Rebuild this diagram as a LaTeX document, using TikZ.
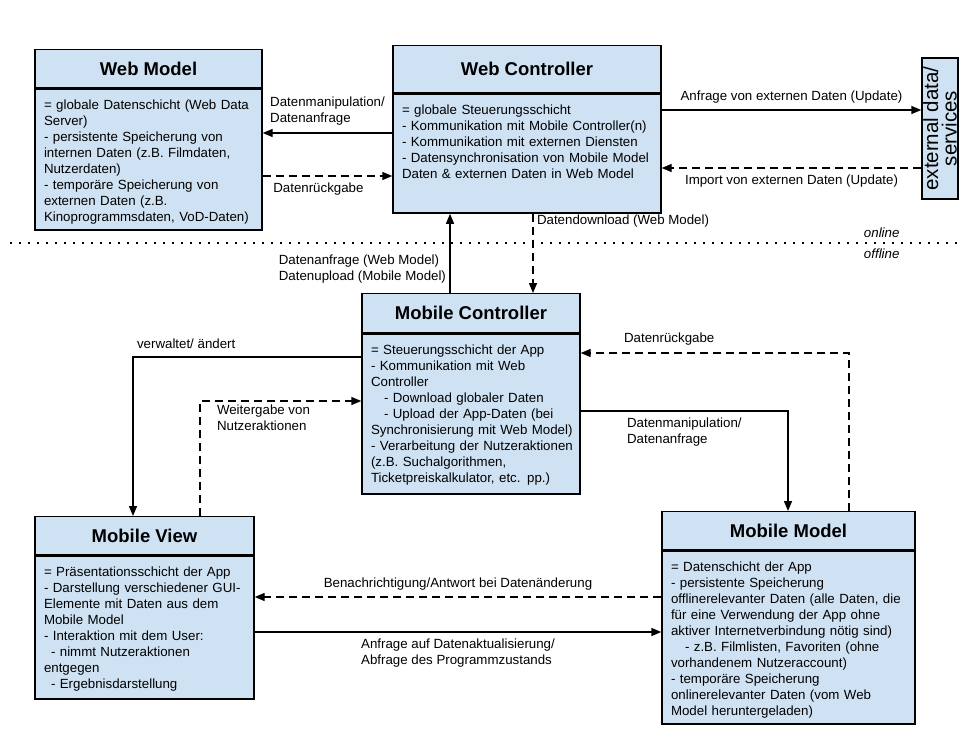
\documentclass[tikz,border=0pt]{standalone}
\usepackage{fontspec}
\setmainfont{Liberation Sans}
\usetikzlibrary{arrows.meta,positioning}

\definecolor{classblue}{HTML}{CFE2F3}
% fixed-height body text, top aligned
\newcommand{\bodylines}[2]{\parbox[c][#1][t]{\dimexpr\linewidth+30pt\relax}{\raggedright\rule{0pt}{20.5pt}#2}}

\begin{document}
\begin{tikzpicture}[x=1pt, y=-1pt,
    classhead/.style={draw, fill=classblue, line width=1.4pt, inner sep=0pt, anchor=north,
        font=\fontsize{18.5}{22}\selectfont\bfseries},
    classbody/.style={draw, fill=classblue, line width=1.4pt, inner xsep=9pt, inner ysep=0pt,
        anchor=north, font=\fontsize{13.3}{16}\selectfont},
    lbl/.style={font=\fontsize{13.3}{16}\selectfont, align=left},
    arr/.style={line width=1.4pt, -{Triangle[length=10pt,width=8pt]}},
    dashedarr/.style={arr, dash pattern=on 8pt off 5pt}]
    \useasboundingbox (0,0) rectangle (965,744);

    % online part
    \node[classhead, minimum width=227pt, minimum height=38pt] (wmhead) at (148.5,49) {Web Model};
    \node[classbody, text width=209pt, minimum height=141pt] (wm) at (wmhead.south) {\bodylines{141pt}{%
        = globale Datenschicht (Web Data\\
        Server)\\
        - persistente Speicherung von\\
        internen Daten (z.B. Filmdaten,\\
        Nutzerdaten)\\
        - temporäre Speicherung von\\
        externen Daten (z.B.\\
        Kinoprogrammsdaten, VoD-Daten)}};

    \node[classhead, minimum width=268pt, minimum height=47pt] (wchead) at (527,45) {Web Controller};
    \node[classbody, text width=250pt, minimum height=119pt] (wc) at (wchead.south) {\bodylines{119pt}{%
        = globale Steuerungsschicht\\
        - Kommunikation mit Mobile Controller(n)\\
        - Kommunikation mit externen Diensten\\
        - Datensynchronisation von Mobile Model\\
        Daten \& externen Daten in Web Model}};

    \node[draw, fill=classblue, line width=1.4pt, inner sep=0pt, minimum width=36pt, minimum height=141pt,
        font=\fontsize{20.5}{18.5}\selectfont] (ext) at (940,128.5)
        {\rotatebox{90}{\parbox{141pt}{\centering external data/\\services}}};

    \draw[arr] (wc.west |- 0,133) -- (wm.east |- 0,133)
        node[lbl, midway, above=4pt] (lmanip) {Datenmanipulation/\\Datenanfrage};
    \draw[dashedarr] (wm.east |- 0,176) -- (wc.west |- 0,176)
        node[lbl, pos=0.43, below=3pt] (lback) {Datenrückgabe};
    \draw[arr] (wc.east |- 0,110) -- (ext.west |- 0,110)
        node[lbl, midway, above=3pt] (lreq) {Anfrage von externen Daten (Update)};
    \draw[dashedarr] (ext.west |- 0,168) -- (wc.east |- 0,168)
        node[lbl, midway, below=3pt] (limp) {Import von externen Daten (Update)};

    % online / offline border
    \draw[line width=1.6pt, dash pattern=on 1.6pt off 7.4pt] (10,243) -- (962,243);
    \node[font=\fontsize{13.3}{16}\selectfont\itshape, anchor=east] (online) at (903,233) {online};
    \node[font=\fontsize{13.3}{16}\selectfont\itshape, anchor=east] (offline) at (903,254) {offline};

    % offline part
    \node[classhead, minimum width=218pt, minimum height=39pt] (mchead) at (471,293) {Mobile Controller};
    \node[classbody, text width=200pt, minimum height=160pt] (mc) at (mchead.south) {\bodylines{160pt}{%
        = Steuerungsschicht der App\\
        - Kommunikation mit Web\\
        Controller\\
        \hspace*{13pt}- Download globaler Daten\\
        \hspace*{13pt}- Upload der App-Daten (bei\\
        Synchronisierung mit Web Model)\\
        - Verarbeitung der Nutzeraktionen\\
        (z.B. Suchalgorithmen,\\
        Ticketpreiskalkulator, etc. pp.)}};

    \node[classhead, minimum width=219pt, minimum height=38pt] (mvhead) at (144.5,516) {Mobile View};
    \node[classbody, text width=201pt, minimum height=143pt] (mv) at (mvhead.south) {\bodylines{143pt}{%
        = Präsentationsschicht der App\\
        - Darstellung verschiedener GUI-\\
        Elemente mit Daten aus dem\\
        Mobile Model\\
        - Interaktion mit dem User:\\
        \hspace*{7pt}- nimmt Nutzeraktionen\\
        entgegen\\
        \hspace*{7pt}- Ergebnisdarstellung}};

    \node[classhead, minimum width=253pt, minimum height=38pt] (mmhead) at (788.5,511) {Mobile Model};
    \node[classbody, text width=235pt, minimum height=173pt] (mm) at (mmhead.south) {\bodylines{173pt}{%
        = Datenschicht der App\\
        - persistente Speicherung\\
        offlinerelevanter Daten (alle Daten, die\\
        für eine Verwendung der App ohne\\
        aktiver Internetverbindung nötig sind)\\
        \hspace*{14pt}- z.B. Filmlisten, Favoriten (ohne\\
        vorhandenem Nutzeraccount)\\
        - temporäre Speicherung\\
        onlinerelevanter Daten (vom Web\\
        Model heruntergeladen)}};

    % controller <-> web controller
    \draw[arr] (mchead.north -| 450,0) -- (wc.south -| 450,0)
        node[lbl, pos=0.3, left] (lup) {Datenanfrage (Web Model)\\Datenupload (Mobile Model)};
    \draw[dashedarr] (wc.south -| 533,0) -- (mchead.north -| 533,0)
        node[lbl, pos=0.09, right] (ldown) {Datendownload (Web Model)};

    % app internals
    \draw[arr] (mc.west |- 0,357) -| (mvhead.north -| 133,0)
        node[lbl, pos=0.5, above right, yshift=4pt] (lmanage) {verwaltet/ ändert};
    \draw[dashedarr] (mvhead.north -| 200,0) |- (mc.west |- 0,401)
        node[lbl, pos=0.5, below right, xshift=13pt] (lpass) {Weitergabe von\\Nutzeraktionen};
    \draw[arr] (mc.east |- 0,411) -| (mmhead.north -| 788,0)
        node[lbl, pos=0.25, below=3pt] (lmanip2) {Datenmanipulation/\\Datenanfrage};
    \draw[dashedarr] (mmhead.north -| 849,0) |- (mc.east |- 0,353)
        node[lbl, pos=0.835, above=4pt] (lback2) {Datenrückgabe};
    \draw[dashedarr] (mm.west |- 0,597) -- (mv.east |- 0,597)
        node[lbl, midway, above=3pt] (lnotify) {Benachrichtigung/Antwort bei Datenänderung};
    \draw[arr] (mv.east |- 0,632) -- (mm.west |- 0,632)
        node[lbl, midway, below=3pt] (lrefresh) {Anfrage auf Datenaktualisierung/\\Abfrage des Programmzustands};
\end{tikzpicture}
\end{document}
